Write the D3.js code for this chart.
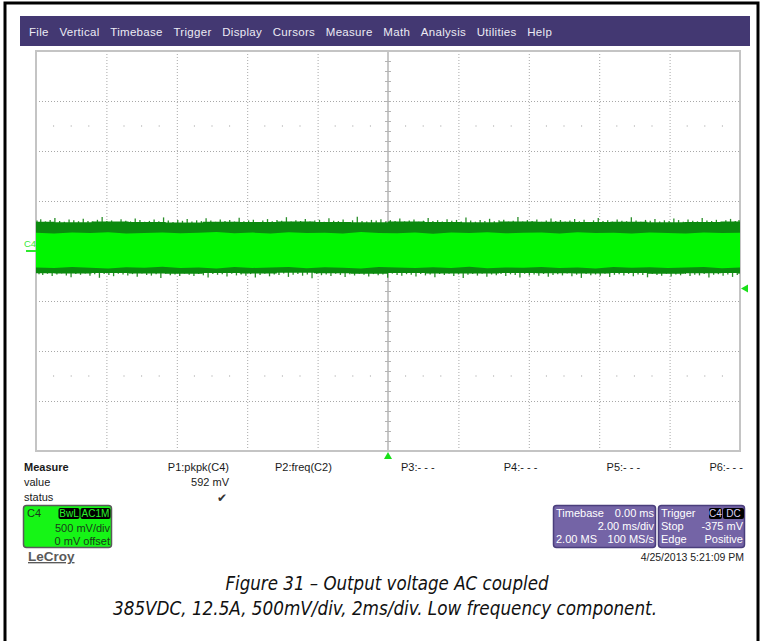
<!DOCTYPE html>
<html>
<head>
<meta charset="utf-8">
<script src="https://d3js.org/d3.v7.min.js"></script>
<style>
  body { margin: 0; background: #fff; }
  svg { display: block; font-family: "Liberation Sans", Arial, sans-serif; }
  .grid line { stroke: #a8a8a8; stroke-dasharray: 1,2; }
  .grid path { display: none; }
  .caption { font-family: "Liberation Sans Narrow", "DejaVu Sans Condensed", sans-serif; font-style: italic; font-size: 19.5px; fill: #111; }
</style>
</head>
<body>
<svg width="770" height="641"></svg>
<script>
// menu bar labels
const menuItems = ['File', 'Vertical', 'Timebase', 'Trigger', 'Display', 'Cursors', 'Measure', 'Math', 'Analysis', 'Utilities', 'Help'];

// measurement row
const measureLabels = ['P1:pkpk(C4)', 'P2:freq(C2)', 'P3:- - -', 'P4:- - -', 'P5:- - -', 'P6:- - -'];
const measureValues = ['592 mV', '', '', '', '', ''];
const measureStatus = [true, false, false, false, false, false];

// screen: 10 x 8 divisions, 2 ms/div, 500 mV/div
const timeDivs = [-10, -8, -6, -4, -2, 0, 2, 4, 6, 8, 10];
const voltDivs = [-2000, -1500, -1000, -500, 0, 500, 1000, 1500, 2000];

// C4 trace envelope (mV) left to right
// noise peaks
const peakHi = [305,318,296,310,331,300,292,315,308,298,322,301,294,312,340,299,306,291,317,303,
  296,325,309,293,301,314,297,336,305,290,311,302,320,295,307,299,328,304,292,316,
  301,309,295,333,298,306,313,291,304,319,297,310,302,338,294,308,300,321,296,305,
  312,293,327,303,299,315,291,307,342,300,296,311,304,318,293,309,301,324,297,306,
  315,292,303,330,299,308,295,317,302,311,296,334,305,293,310,300,322,298,307,313,
  294,303,339,296,309,301,316,292,305,326,299,310,295,304,320,297,312,291,306,331,
  300,308,294,315,303,298,337,306,293,311,302,319,296,307,300,325,309,292,314,303,
  297,329,305,299,312,294,308,321,301,310];
const peakLo = [-232,-241,-228,-250,-236,-224,-245,-262,-230,-238,-226,-247,-233,-268,-229,-240,-252,-227,-236,-244,
  -231,-258,-225,-239,-246,-233,-271,-228,-242,-235,-251,-226,-237,-249,-230,-243,-264,-229,-238,-232,
  -255,-227,-244,-236,-248,-231,-266,-240,-228,-253,-234,-241,-226,-259,-237,-230,-247,-235,-273,-229,
  -242,-236,-250,-227,-239,-261,-233,-245,-228,-238,-256,-231,-243,-235,-267,-226,-240,-248,-232,-237,
  -254,-229,-244,-236,-262,-230,-241,-227,-249,-234,-270,-238,-231,-246,-228,-257,-235,-242,-229,-251,
  -233,-239,-265,-227,-245,-236,-248,-230,-258,-240,-232,-244,-226,-253,-237,-269,-231,-242,-235,-247,
  -228,-260,-238,-233,-245,-229,-252,-236,-241,-263,-230,-239,-248,-227,-256,-234,-243,-231,-250,-237,
  -244,-229,-266,-238,-232,-247,-235,-259,-240,-230];
// solid (dense) band edges
const denseHi = [292,288,295,290,286,293,289,296,291,287,294,290,288,295,292,289,293,287,291,294];
const denseLo = [-222,-226,-219,-224,-228,-221,-225,-218,-223,-227,-220,-224,-226,-219,-222,-225,-221,-227,-223,-220];
// bright core edges
const coreHi = [182,176,185,179,188,174,181,186,177,183,190,178,184,175,187,180,183,176,189,181,
  178,186,173,184,180,187,177,182,185,175,188,179,183,176,186,181,174,185,179,183];
const coreLo = [-165,-171,-160,-168,-174,-162,-167,-158,-170,-164,-176,-161,-169,-166,-159,-172,-163,-168,-175,-160,
  -166,-171,-162,-169,-157,-173,-164,-167,-161,-170,-165,-174,-159,-168,-163,-171,-166,-160,-172,-165];

const triggerLevel = -375; // mV
const triggerTime = 0;     // ms

const svg = d3.select('svg');

// outer frame
svg.append('path')
  .attr('d', 'M5,641V3H758V641')
  .attr('fill', 'none')
  .attr('stroke', '#000')
  .attr('stroke-width', 3);

// menu bar
svg.append('rect')
  .attr('x', 20).attr('y', 16)
  .attr('width', 730).attr('height', 30)
  .attr('fill', '#433872');

let mx = 29;
menuItems.forEach(m => {
  const t = svg.append('text')
    .attr('x', mx).attr('y', 36)
    .attr('font-size', 11.5)
    .attr('letter-spacing', 0.3)
    .attr('fill', '#ecebf4')
    .text(m);
  mx += t.node().getComputedTextLength() + 10.7;
});

// scales
const x = d3.scaleLinear().domain([-10, 10]).range([36, 740]);
const y = d3.scaleLinear().domain([-2000, 2000]).range([451, 51]);

const chart = svg.append('g');

// dotted graticule
chart.append('g')
  .attr('class', 'grid')
  .attr('transform', 'translate(0, 451)')
  .call(d3.axisBottom(x)
    .tickValues(timeDivs.filter(d => d !== 0 && Math.abs(d) !== 10))
    .tickSize(-400)
    .tickFormat(''));

chart.append('g')
  .attr('class', 'grid')
  .attr('transform', 'translate(36, 0)')
  .call(d3.axisLeft(y)
    .tickValues(voltDivs.filter(d => d !== 0 && Math.abs(d) !== 2000))
    .tickSize(-704)
    .tickFormat(''));

// dotted minor rows at 1.5 div from top and bottom
const minorX = x.ticks(50).filter(t => Math.abs(t / 2 - Math.round(t / 2)) > 0.01);
[1250, -1250].forEach(v => {
  chart.append('g').selectAll('rect')
    .data(minorX)
    .join('rect')
    .attr('x', d => x(d) - 0.5)
    .attr('y', y(v) - 0.5)
    .attr('width', 1).attr('height', 1)
    .attr('fill', '#9a9a9a');
});

// center cross with minor ticks
chart.append('line')
  .attr('x1', x(0)).attr('x2', x(0))
  .attr('y1', y(2000)).attr('y2', y(-2000))
  .attr('stroke', '#b4b4b4').attr('stroke-width', 1.5);
chart.append('line')
  .attr('x1', x(-10)).attr('x2', x(10))
  .attr('y1', y(0)).attr('y2', y(0))
  .attr('stroke', '#b4b4b4').attr('stroke-width', 1.5);

chart.append('g')
  .attr('transform', `translate(${x(0) + 3}, 0)`)
  .call(d3.axisLeft(y).ticks(40).tickSize(6).tickFormat(''))
  .call(g => g.select('.domain').remove())
  .call(g => g.selectAll('line').attr('stroke', '#b4b4b4'));

chart.append('g')
  .attr('transform', `translate(0, ${y(0) + 3})`)
  .call(d3.axisTop(x).ticks(50).tickSize(6).tickFormat(''))
  .call(g => g.select('.domain').remove())
  .call(g => g.selectAll('line').attr('stroke', '#b4b4b4'));

// screen border
chart.append('rect')
  .attr('x', 36).attr('y', 51)
  .attr('width', 704).attr('height', 400)
  .attr('fill', 'none')
  .attr('stroke', '#c4c4c4')
  .attr('stroke-width', 2);

// C4 trace
const sPeak = d3.scaleLinear().domain([0, peakHi.length - 1]).range(x.domain());
const sDense = d3.scaleLinear().domain([0, denseHi.length - 1]).range(x.domain());
const sCore = d3.scaleLinear().domain([0, coreHi.length - 1]).range(x.domain());
const xSpike = i => Math.max(37, Math.min(739, x(sPeak(i))));

// noise spikes
const trace = chart.append('g');
trace.append('g').selectAll('line')
  .data(peakHi)
  .join('line')
  .attr('x1', (d, i) => xSpike(i)).attr('x2', (d, i) => xSpike(i))
  .attr('y1', y(200)).attr('y2', d => y(d))
  .attr('stroke', '#2a8f2a').attr('stroke-width', 1.3);
trace.append('g').selectAll('line')
  .data(peakLo)
  .join('line')
  .attr('x1', (d, i) => Math.min(739, xSpike(i) + 2)).attr('x2', (d, i) => Math.min(739, xSpike(i) + 2))
  .attr('y1', y(-150)).attr('y2', d => y(d))
  .attr('stroke', '#2a8f2a').attr('stroke-width', 1.3);

// solid dark band
trace.append('path')
  .datum(denseHi)
  .attr('d', d3.area()
    .x((d, i) => x(sDense(i)))
    .y0((d, i) => y(denseLo[i]))
    .y1(d => y(d))
    .curve(d3.curveStep))
  .attr('fill', '#0b8a0e');

// bright core
trace.append('path')
  .datum(coreHi)
  .attr('d', d3.area()
    .x((d, i) => x(sCore(i)))
    .y0((d, i) => y(coreLo[i]))
    .y1(d => y(d)))
  .attr('fill', '#00f500');

// C4 ground marker
svg.append('text')
  .attr('x', 24).attr('y', 247)
  .attr('font-size', 9.5)
  .attr('fill', '#38e838')
  .text('C4');
svg.append('line')
  .attr('x1', 26).attr('x2', 36)
  .attr('y1', y(0)).attr('y2', y(0))
  .attr('stroke', '#2ee82e').attr('stroke-width', 2);

// trigger level marker (right) and trigger time marker (bottom)
svg.append('path')
  .attr('d', `M${x(10) + 1},${y(triggerLevel)}l7,-4v8z`)
  .attr('fill', '#18e018');
svg.append('path')
  .attr('d', `M${x(triggerTime)},${y(-2000) + 1}l-4,7h8z`)
  .attr('fill', '#18e018');

// measurement table
const info = svg.append('g').attr('font-size', 11).attr('fill', '#1a1a1a');
info.append('text').attr('x', 24).attr('y', 471).attr('font-weight', 'bold').text('Measure');
info.append('text').attr('x', 24).attr('y', 486).text('value');
info.append('text').attr('x', 24).attr('y', 501).text('status');

const colX = d3.scalePoint().domain(measureLabels).range([229, 743]);
measureLabels.forEach((m, i) => {
  info.append('text')
    .attr('x', colX(m)).attr('y', 471)
    .attr('text-anchor', 'end')
    .text(m);
  info.append('text')
    .attr('x', colX(m)).attr('y', 486)
    .attr('text-anchor', 'end')
    .text(measureValues[i]);
  if (measureStatus[i]) {
    info.append('text')
      .attr('x', colX(m) - 2).attr('y', 502)
      .attr('text-anchor', 'end')
      .attr('font-family', 'DejaVu Sans')
      .attr('font-size', 12)
      .attr('fill', '#333')
      .text('\u2714');
  }
});

// helper for a small label box
function badge(g, x0, y0, w, txt, fg) {
  g.append('rect')
    .attr('x', x0).attr('y', y0)
    .attr('width', w).attr('height', 11)
    .attr('rx', 2)
    .attr('fill', '#000');
  g.append('text')
    .attr('x', x0 + w / 2).attr('y', y0 + 9)
    .attr('text-anchor', 'middle')
    .attr('font-size', 10)
    .attr('fill', fg)
    .text(txt);
}

// C4 channel descriptor
const c4 = svg.append('g').attr('font-size', 11);
c4.append('rect')
  .attr('x', 23.5).attr('y', 505.5)
  .attr('width', 88).attr('height', 42)
  .attr('rx', 3)
  .attr('fill', '#16f516')
  .attr('stroke', '#5a5a5a').attr('stroke-width', 1.5);
c4.append('text').attr('x', 27).attr('y', 517).attr('fill', '#1a3a1a').text('C4');
badge(c4, 58.5, 508, 21, 'BwL', '#2cf02c');
badge(c4, 80.5, 508, 30, 'AC1M', '#2cf02c');
c4.append('text').attr('x', 110).attr('y', 532).attr('text-anchor', 'end').attr('fill', '#1a3a1a').text('500 mV/div');
c4.append('text').attr('x', 110).attr('y', 545).attr('text-anchor', 'end').attr('fill', '#1a3a1a').text('0 mV offset');

// LeCroy logo
svg.append('text')
  .attr('x', 28).attr('y', 561)
  .attr('font-size', 13.5)
  .attr('font-weight', 'bold')
  .attr('fill', '#5a5a5a')
  .attr('text-decoration', 'underline')
  .text('LeCroy');

// timebase descriptor
const tb = svg.append('g').attr('font-size', 11).attr('fill', '#fff');
tb.append('rect')
  .attr('x', 553.5).attr('y', 505.5)
  .attr('width', 102).attr('height', 42)
  .attr('rx', 3)
  .attr('fill', '#7464a6')
  .attr('stroke', '#4a3e7c').attr('stroke-width', 1.5);
tb.append('text').attr('x', 556).attr('y', 517).text('Timebase');
tb.append('text').attr('x', 654).attr('y', 517).attr('text-anchor', 'end').text('0.00 ms');
tb.append('text').attr('x', 654).attr('y', 530).attr('text-anchor', 'end').text('2.00 ms/div');
tb.append('text').attr('x', 556).attr('y', 543).text('2.00 MS');
tb.append('text').attr('x', 654).attr('y', 543).attr('text-anchor', 'end').text('100 MS/s');

// trigger descriptor
const tr = svg.append('g').attr('font-size', 11).attr('fill', '#fff');
tr.append('rect')
  .attr('x', 658.5).attr('y', 505.5)
  .attr('width', 86).attr('height', 42)
  .attr('rx', 3)
  .attr('fill', '#7464a6')
  .attr('stroke', '#4a3e7c').attr('stroke-width', 1.5);
tr.append('text').attr('x', 661).attr('y', 517).text('Trigger');
badge(tr, 709, 508, 13, 'C4', '#d8d0f0');
badge(tr, 723, 508, 21, 'DC', '#d8d0f0');
tr.append('text').attr('x', 661).attr('y', 530).text('Stop');
tr.append('text').attr('x', 743).attr('y', 530).attr('text-anchor', 'end').text(`${triggerLevel} mV`);
tr.append('text').attr('x', 661).attr('y', 543).text('Edge');
tr.append('text').attr('x', 743).attr('y', 543).attr('text-anchor', 'end').text('Positive');

// timestamp
svg.append('text')
  .attr('x', 744).attr('y', 561)
  .attr('text-anchor', 'end')
  .attr('font-size', 10.5)
  .attr('fill', '#222')
  .text('4/25/2013 5:21:09 PM');

// figure caption
svg.append('text')
  .attr('class', 'caption')
  .attr('x', 387).attr('y', 590)
  .attr('text-anchor', 'middle')
  .attr('textLength', 323)
  .attr('lengthAdjust', 'spacingAndGlyphs')
  .text('Figure 31 \u2013 Output voltage AC coupled');
svg.append('text')
  .attr('class', 'caption')
  .attr('x', 385).attr('y', 615)
  .attr('text-anchor', 'middle')
  .attr('textLength', 544)
  .attr('lengthAdjust', 'spacingAndGlyphs')
  .text('385VDC, 12.5A, 500mV/div, 2ms/div. Low frequency component.');
</script>
</body>
</html>
